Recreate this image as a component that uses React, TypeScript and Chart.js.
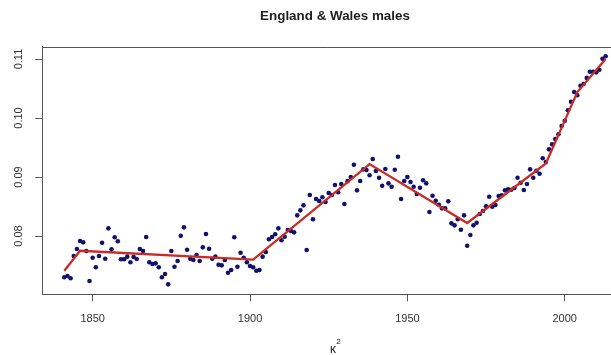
import React, { useEffect, useRef } from "react";
import { Chart, registerables } from "chart.js";

Chart.register(...registerables);

const title = "England & Wales males";
const xLabel = "κ";
const xLabelSup = "2";

const years = [
  1841, 1842, 1843, 1844, 1845, 1846, 1847, 1848, 1849, 1850,
  1851, 1852, 1853, 1854, 1855, 1856, 1857, 1858, 1859, 1860,
  1861, 1862, 1863, 1864, 1865, 1866, 1867, 1868, 1869, 1870,
  1871, 1872, 1873, 1874, 1875, 1876, 1877, 1878, 1879, 1880,
  1881, 1882, 1883, 1884, 1885, 1886, 1887, 1888, 1889, 1890,
  1891, 1892, 1893, 1894, 1895, 1896, 1897, 1898, 1899, 1900,
  1901, 1902, 1903, 1904, 1905, 1906, 1907, 1908, 1909, 1910,
  1911, 1912, 1913, 1914, 1915, 1916, 1917, 1918, 1919, 1920,
  1921, 1922, 1923, 1924, 1925, 1926, 1927, 1928, 1929, 1930,
  1931, 1932, 1933, 1934, 1935, 1936, 1937, 1938, 1939, 1940,
  1941, 1942, 1943, 1944, 1945, 1946, 1947, 1948, 1949, 1950,
  1951, 1952, 1953, 1954, 1955, 1956, 1957, 1958, 1959, 1960,
  1961, 1962, 1963, 1964, 1965, 1966, 1967, 1968, 1969, 1970,
  1971, 1972, 1973, 1974, 1975, 1976, 1977, 1978, 1979, 1980,
  1981, 1982, 1983, 1984, 1985, 1986, 1987, 1988, 1989, 1990,
  1991, 1992, 1993, 1994, 1995, 1996, 1997, 1998, 1999, 2000,
  2001, 2002, 2003, 2004, 2005, 2006, 2007, 2008, 2009, 2010,
  2011, 2012, 2013,
];

const kappa2 = [
  0.0730, 0.07322, 0.07283, 0.07661, 0.0778, 0.07915, 0.07893, 0.07746, 0.07237, 0.07632,
  0.0747, 0.0766, 0.07887, 0.07615, 0.0813, 0.07774, 0.07978, 0.0791, 0.07605, 0.07605,
  0.0765, 0.07554, 0.07644, 0.0761, 0.0778, 0.07746, 0.07983, 0.07554, 0.07525, 0.07537,
  0.0747, 0.0730, 0.07356, 0.07181, 0.07746, 0.0748, 0.07576, 0.08005, 0.08147, 0.07768,
  0.07615, 0.07593, 0.07678, 0.07576, 0.07808, 0.08034, 0.07785, 0.07615, 0.0765, 0.07514,
  0.07503, 0.07593, 0.07378, 0.07424, 0.07978, 0.0748, 0.07717, 0.07632, 0.07554, 0.07492,
  0.0747, 0.07412, 0.07424, 0.0765, 0.07729, 0.07944, 0.07983, 0.08029, 0.0813, 0.07927,
  0.07988, 0.08102, 0.08085, 0.08062, 0.0835, 0.08435, 0.0852, 0.07763, 0.08695, 0.08283,
  0.08627, 0.08593, 0.08656, 0.08576, 0.08729, 0.08695, 0.08864, 0.08741, 0.08881, 0.08542,
  0.0893, 0.0900, 0.09209, 0.08774, 0.08932, 0.0913, 0.09119, 0.09029, 0.09305, 0.09102,
  0.08988, 0.08853, 0.09136, 0.08893, 0.08836, 0.09124, 0.09344, 0.08627, 0.08932, 0.0900,
  0.08915, 0.08836, 0.08712, 0.08819, 0.08944, 0.08893, 0.08407, 0.08683, 0.08598, 0.08531,
  0.08469, 0.08469, 0.08588, 0.08215, 0.08181, 0.08283, 0.08107, 0.0835, 0.07836, 0.08017,
  0.08181, 0.08226, 0.08373, 0.08424, 0.08503, 0.08666, 0.08497, 0.08525, 0.08678, 0.0869,
  0.08774, 0.08791, 0.08785, 0.08814, 0.08988, 0.08903, 0.0878, 0.08881, 0.0913, 0.08988,
  0.09107, 0.09056, 0.09317, 0.09254, 0.09469, 0.09554, 0.09644, 0.09724, 0.09864, 0.09954,
  0.10131, 0.10276, 0.10441, 0.10385, 0.10547, 0.10576, 0.1068, 0.10785, 0.10785, 0.10774,
  0.10819, 0.11005, 0.11046,
];

const fitYears = [1841, 1846, 1901, 1938, 1969, 1994, 2004, 2013];
const fitValues = [0.0741, 0.0775, 0.0760, 0.0922, 0.0822, 0.0923, 0.1044, 0.1100];

const xTicks = [1850, 1900, 1950, 2000];
const yTicks = [0.08, 0.09, 0.1, 0.11];
const yTickLabels = ["0.08", "0.09", "0.10", "0.11"];

const FONT = "'Liberation Sans', Arial, Helvetica, sans-serif";
const AXIS = "#555555";

const decorPlugin = {
  id: "decor",
  afterDraw(chart: any) {
    const { ctx, chartArea, scales } = chart;
    ctx.save();
    // top border of the box
    ctx.strokeStyle = AXIS;
    ctx.lineWidth = 1;
    const ty = Math.round(chartArea.top) + 0.5;
    ctx.beginPath();
    ctx.moveTo(chartArea.left, ty);
    ctx.lineTo(chartArea.right + 5, ty);
    ctx.stroke();

    // title
    ctx.fillStyle = "#1e1e1e";
    ctx.font = `bold 13.4px ${FONT}`;
    ctx.textAlign = "center";
    ctx.textBaseline = "middle";
    ctx.fillText(title, 335, 16.5);

    // y tick labels (rotated, R style)
    ctx.fillStyle = "#333333";
    ctx.font = `11px ${FONT}`;
    yTicks.forEach((v, i) => {
      const y = scales.y.getPixelForValue(v);
      ctx.save();
      ctx.translate(19, y);
      ctx.rotate(-Math.PI / 2);
      ctx.textAlign = "center";
      ctx.textBaseline = "middle";
      ctx.fillText(yTickLabels[i], 0, 0);
      ctx.restore();
    });

    // x axis label kappa^2
    ctx.fillStyle = "#222222";
    ctx.font = `12px ${FONT}`;
    ctx.textAlign = "center";
    ctx.textBaseline = "middle";
    ctx.fillText(xLabel, 333, 350);
    ctx.font = `8px ${FONT}`;
    ctx.fillText(xLabelSup, 338.5, 341.5);
    ctx.restore();
  },
};

export default function App() {
  const ref = useRef<HTMLCanvasElement | null>(null);

  useEffect(() => {
    const canvas = ref.current;
    if (!canvas) return;
    const chart = new Chart(canvas, {
      type: "scatter",
      data: {
        datasets: [
          {
            type: "line",
            label: "fit",
            data: fitYears.map((y, i) => ({ x: y, y: fitValues[i] })),
            borderColor: "#cc2b24",
            borderWidth: 2.3,
            pointRadius: 0,
            fill: false,
            tension: 0,
          } as any,
          {
            type: "scatter",
            label: "kappa2",
            data: years.map((y, i) => ({ x: y, y: kappa2[i] })),
            backgroundColor: "#10106e",
            borderWidth: 0,
            pointRadius: 2.3,
          },
        ],
      },
      options: {
        responsive: false,
        animation: false,
        devicePixelRatio: 1,
        layout: { autoPadding: false, padding: { top: 46.7, left: 0, right: 0, bottom: 0 } },
        plugins: {
          legend: { display: false },
          title: { display: false },
          tooltip: { enabled: false },
        },
        scales: {
          x: {
            type: "linear",
            min: 1834.0,
            max: 2014.7,
            afterBuildTicks: (s: any) => {
              s.ticks = xTicks.map((v) => ({ value: v }));
            },
            afterFit: (s: any) => {
              s.height = 60.7;
              s.paddingLeft = 0;
              s.paddingRight = 0;
            },
            grid: {
              display: true,
              drawOnChartArea: false,
              drawTicks: true,
              tickLength: 7,
              color: AXIS,
            },
            border: { display: true, color: AXIS, width: 1 },
            ticks: {
              color: "#333333",
              font: { family: FONT, size: 11 },
              padding: 11,
              maxRotation: 0,
              minRotation: 0,
              callback: (v: any) => String(v),
            },
          },
          y: {
            type: "linear",
            min: 0.07012,
            max: 0.11209,
            afterBuildTicks: (s: any) => {
              s.ticks = yTicks.map((v) => ({ value: v }));
            },
            afterFit: (s: any) => {
              s.width = 42.3;
              s.paddingTop = 0;
              s.paddingBottom = 0;
            },
            grid: {
              display: true,
              drawOnChartArea: false,
              drawTicks: true,
              tickLength: 7,
              color: AXIS,
            },
            border: { display: true, color: AXIS, width: 1 },
            ticks: { display: false },
          },
        },
      },
      plugins: [decorPlugin],
    });
    return () => chart.destroy();
  }, []);

  return (
    <div
      style={{
        position: "fixed",
        left: 0,
        top: 0,
        width: 611,
        height: 355,
        background: "#ffffff",
        overflow: "hidden",
      }}
    >
      <canvas ref={ref} width={611} height={355} style={{ display: "block" }} />
    </div>
  );
}
